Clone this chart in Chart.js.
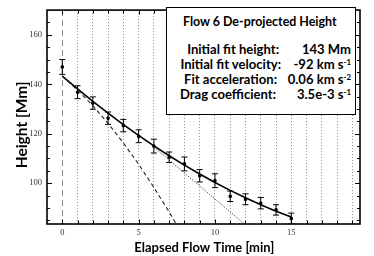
<!DOCTYPE html>
<html><head><meta charset="utf-8">
<script src="https://cdn.jsdelivr.net/npm/chart.js@4"></script>
<style>
html,body{margin:0;padding:0;background:#fff;}
#wrap{position:relative;width:374px;height:256px;overflow:hidden;}
canvas{display:block;}
#box{position:absolute;left:166px;top:7px;width:188px;height:106px;border:1.5px solid #000;background:#fff;font-family:Lato,"Open Sans",sans-serif;font-weight:bold;color:#000;}
#box .t{position:absolute;left:16px;top:6px;line-height:16px;font-size:13px;white-space:nowrap;}
#box .row{position:absolute;left:0;width:188px;height:15px;line-height:15px;font-size:13px;white-space:nowrap;}
#box .lab{position:absolute;top:0;text-align:right;}
#box .val{position:absolute;top:0;right:4px;text-align:right;}
#box sup{font-size:0.6em;vertical-align:0;position:relative;top:-0.5em;line-height:0;}
</style></head>
<body>
<div id="wrap">
<canvas id="c" width="374" height="256"></canvas>
<div id="box">
  <div class="t" id="boxTitle">Flow 6 De-projected Height</div>
  <div class="row" style="top:34px"><span class="lab" style="right:76px">Initial fit height:</span><span class="val">143 Mm</span></div>
  <div class="row" style="top:49px"><span class="lab" style="right:74px">Initial fit velocity:</span><span class="val">-92 km s<sup>-1</sup></span></div>
  <div class="row" style="top:64px"><span class="lab" style="right:78px">Fit acceleration:</span><span class="val">0.06 km s<sup>-2</sup></span></div>
  <div class="row" style="top:79px"><span class="lab" style="right:79px">Drag coefficient:</span><span class="val">3.5e-3 s<sup>-1</sup></span></div>
</div>
</div>
<script>
// ---- data ----
const times   = [0,1,2,3,4,5,6,7,8,9,10,11,12,13,14,15];
const heights = [147.0,136.8,132.4,126.3,123.3,119.0,115.0,110.5,107.8,103.0,101.0,94.7,93.5,91.9,89.2,85.7];
const errors  = [3.0,2.6,2.5,2.5,2.5,2.6,2.8,2.1,2.8,2.5,2.8,2.1,2.2,2.3,2.1,2.2];

const dragTimes = [0,1,2,3,4,5,6,7,8,9,10,11,12,13,14,15];
const dragFit   = [143.3,138.1,133.1,128.3,123.7,119.3,115.1,111.1,107.3,103.7,100.3,97.1,94.1,91.3,88.7,86.3];

const quadTimes = [0,1,2,3,4,5,6,7,8];
const quadFit   = [143.3,137.6,131.4,124.2,116.3,107.7,98.3,88.4,77.8];

const linTimes  = [6,7,8,9,10,11,12,13];
const linFit    = [114.6,109.4,104.1,98.9,93.6,88.4,83.1,77.9];

const xTickLabels = [0,5,10,15];
const yTickLabels = [100,120,140,160];
const xRange = [-1,19.5];
const yRange = [83.5,170];

// ---- font sizing to match reference text widths ----
const FAM = 'Lato,"Open Sans",sans-serif';
const mctx = document.createElement('canvas').getContext('2d');
function fitSize(text, target){
  mctx.font = 'bold 100px ' + FAM;
  return +(100 * target / mctx.measureText(text).width).toFixed(2);
}
const boxTitleSize = fitSize('Flow 6 De-projected Height', 154);
const rowSize = fitSize('Initial fit velocity:', 101);
document.getElementById('boxTitle').style.fontSize = boxTitleSize + 'px';
document.querySelectorAll('#box .row').forEach(r => r.style.fontSize = rowSize + 'px');
const xTitleSize = fitSize('Elapsed Flow Time [min]', 140);
const yTitleSize = fitSize('Height [Mm]', 87);

// ---- build datasets ----
const toXY = (xs, ys) => xs.map((x,i)=>({x:x, y:ys[i]}));
const errData = [];
times.forEach((t,i)=>{
  errData.push({x:t, y:heights[i]-errors[i]});
  errData.push({x:t, y:heights[i]+errors[i]});
  errData.push({x:t, y:null});
});

const serif = {family:'"Liberation Serif","Times New Roman",serif', size:8.5};

const frameTicks = {
  id:'frameTicks',
  afterDraw(chart){
    const {ctx, chartArea:a, scales:{x,y}} = chart;
    ctx.save();
    ctx.strokeStyle = '#000';
    ctx.lineWidth = 1;
    ctx.beginPath();
    for (let v = 85; v <= 165; v += 5) {
      const py = Math.round(y.getPixelForValue(v)) + 0.5;
      const len = (v % 20 === 0) ? 5 : 3;
      ctx.moveTo(a.left, py); ctx.lineTo(a.left + len, py);
      ctx.moveTo(a.right, py); ctx.lineTo(a.right - len, py);
    }
    for (let v = 0; v <= 19; v++) {
      const px = Math.round(x.getPixelForValue(v)) + 0.5;
      const len = (v % 5 === 0) ? 4.5 : 3.5;
      ctx.moveTo(px, a.bottom); ctx.lineTo(px, a.bottom - len);
      ctx.moveTo(px, a.top); ctx.lineTo(px, a.top + len);
    }
    ctx.stroke();
    ctx.lineWidth = 1.6;
    ctx.strokeRect(a.left, a.top, a.right - a.left, a.bottom - a.top);
    ctx.restore();
  }
};

new Chart(document.getElementById('c'), {
  type: 'scatter',
  data: {
    datasets: [
      { label:'errors', data: errData, showLine:true, spanGaps:false,
        borderColor:'#000', borderWidth:1, pointStyle:'line', pointRadius:3,
        pointBorderColor:'#000', pointBorderWidth:1, order:5 },
      { label:'height', data: toXY(times, heights), showLine:false,
        pointStyle:'rect', pointRadius:1.6, backgroundColor:'#000', borderColor:'#000', order:4 },
      { label:'drag fit', data: toXY(dragTimes, dragFit), showLine:true,
        borderColor:'#000', borderWidth:1.6, pointRadius:0, order:3 },
      { label:'quadratic', data: toXY(quadTimes, quadFit), showLine:true,
        borderColor:'#222', borderWidth:1.1, borderDash:[4,3], pointRadius:0, order:2 },
      { label:'linear', data: toXY(linTimes, linFit), showLine:true,
        borderColor:'#222', borderWidth:1, borderDash:[1,1.5], pointRadius:0, order:1 }
    ]
  },
  options: {
    responsive:false, animation:false, devicePixelRatio:1,
    layout:{padding:{top:2,right:14,left:0,bottom:0}},
    plugins:{legend:{display:false}, tooltip:{enabled:false}},
    scales:{
      x:{ type:'linear', min:xRange[0], max:xRange[1],
        afterBuildTicks(s){ const t=[]; for(let v=0; v<=19; v++) t.push({value:v}); s.ticks=t; },
        afterFit(s){ s.height = 32; },
        ticks:{ font:serif, color:'#333', padding:4, maxRotation:0, autoSkip:false,
          callback:(v)=> xTickLabels.includes(v) ? String(v) : '' },
        grid:{ drawTicks:false, color:'#8c8c8c', lineWidth:1 },
        border:{ display:false, dash:(c)=> (c.tick && c.tick.value===0) ? [6,4] : [1,2] },
        title:{ display:true, text:'\u2009Elapsed Flow Time [min]', font:{family:FAM, size:xTitleSize, weight:'bold'}, color:'#000', padding:{top:0.5,bottom:0} }
      },
      y:{ type:'linear', min:yRange[0], max:yRange[1],
        afterBuildTicks(s){ s.ticks = yTickLabels.map(v=>({value:v})); },
        afterFit(s){ s.width = 47; },
        ticks:{ font:serif, color:'#333', padding:5 },
        grid:{ display:false, drawTicks:false },
        border:{ display:false },
        title:{ display:true, text:'Height [Mm]\u2002\u2002', font:{family:FAM, size:yTitleSize, weight:'bold'}, color:'#000', padding:{top:13,bottom:0} }
      }
    }
  },
  plugins:[frameTicks]
});
</script>
</body></html>
